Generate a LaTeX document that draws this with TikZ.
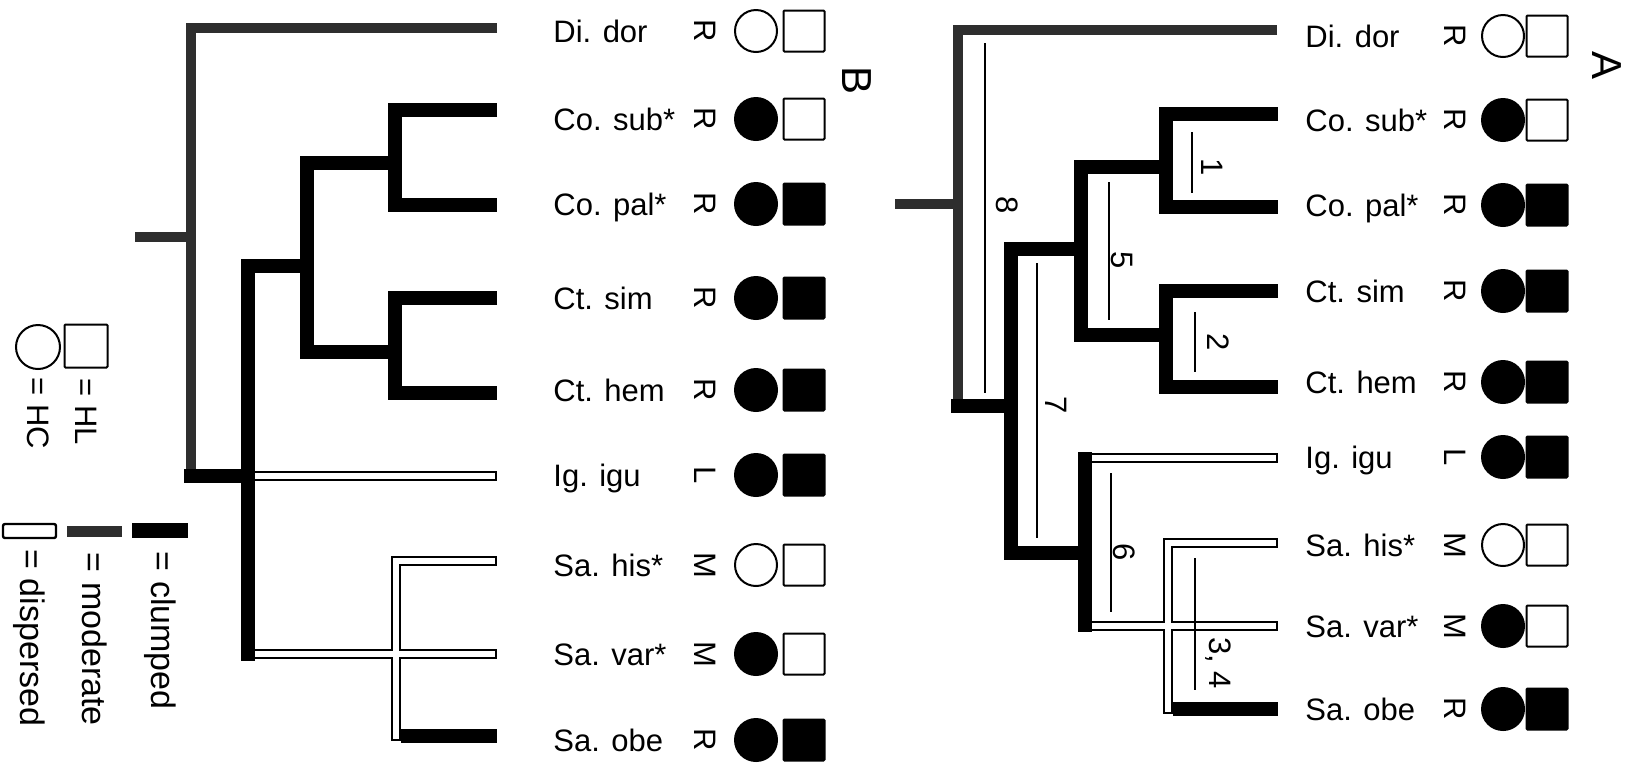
\documentclass[tikz,border=0pt]{standalone}
\usepackage{fontspec}
\setmainfont{Liberation Sans}
\usetikzlibrary{positioning}
\definecolor{mgray}{gray}{0.18}
\tikzset{
    clumped/.style = {line width=6.75pt, black},
    moderate/.style = {line width=5.25pt, mgray},
    dispout/.style = {line width=5pt, black, line cap=rect},
    dispin/.style = {line width=3pt, white, line cap=rect},
    annot/.style = {line width=1.2pt},
    taxon/.style = {anchor=west, inner sep=0, font=\fontsize{15.5}{18}\selectfont,
        text height=11.1pt, text depth=0pt},
    turned/.style = {rotate=-90, inner sep=0, font=\fontsize{15.5}{18}\selectfont},
    dotc/.style = {circle, draw, line width=1pt, inner sep=0, minimum size=21pt},
    boxc/.style = {rectangle, draw, line width=1pt, inner sep=0, minimum size=20.5pt, rounded corners=0.5pt},
}

\begin{document}
\begin{tikzpicture}[x=0.5pt, y=-0.5pt]
    \useasboundingbox (0,0) rectangle (1641,762);

    % tree B
    \coordinate (bStub) at (135,237);
    \coordinate (bRoot) at (191,237);
    \coordinate (bRootLow) at (191,476);
    \coordinate (bMain) at (248,476);
    \coordinate (bCC) at (307,266);
    \coordinate (bCo) at (395,163);
    \coordinate (bCtn) at (395,352);
    \coordinate (bSaStem) at (248,654);
    \coordinate (bSaBot) at (396,736);
    \coordinate (bDi) at (497,28);
    \coordinate (bCs) at (497,110);
    \coordinate (bCp) at (497,205);
    \coordinate (bCt) at (497,298);
    \coordinate (bCh) at (497,393);
    \coordinate (bIg) at (492,476);
    \coordinate (bSh) at (492,561);
    \coordinate (bSv) at (492,654);
    \coordinate (bSo) at (497,736);

    % tree A
    \coordinate (aStub) at (895,204);
    \coordinate (aRoot) at (958,204);
    \coordinate (aRootLow) at (958,406);
    \coordinate (aMain) at (1011,406);
    \coordinate (aCC) at (1081,249);
    \coordinate (aCo) at (1166,167);
    \coordinate (aCtn) at (1166,335);
    \coordinate (aN6) at (1085,553);
    \coordinate (aIgStem) at (1085,458);
    \coordinate (aSvStem) at (1085,626);
    \coordinate (aSaBot) at (1168,709);
    \coordinate (aDi) at (1277,30);
    \coordinate (aCs) at (1278,114);
    \coordinate (aCp) at (1278,207);
    \coordinate (aCt) at (1278,291);
    \coordinate (aCh) at (1278,387);
    \coordinate (aIg) at (1273,458);
    \coordinate (aSh) at (1273,543);
    \coordinate (aSv) at (1273,626);
    \coordinate (aSo) at (1278,709);

    % dispersed branches: outline first, then the white core
    \foreach \s in {dispout,dispin}{
        \draw[\s] (bMain) -- (bIg);
        \draw[\s] (bSaStem) -- (bSv);
        \draw[\s] (bSh) -| (bSaBot);
        \draw[\s] (aIgStem) -- (aIg);
        \draw[\s] (aSvStem) -- (aSv);
        \draw[\s] (aSh) -| (aSaBot);
    }

    \draw[moderate] (bStub) -- (bRoot);
    \draw[moderate] (bDi) -| (bRoot) -- (bRootLow);
    \draw[moderate] (aStub) -- (aRoot);
    \draw[moderate] (aDi) -| (aRoot) -- (aRootLow);

    \draw[clumped, line cap=rect] (bRootLow) -- (bMain);
    \draw[clumped] (bCC) -| (bMain) -- ([yshift=-3.4pt]bSaStem);
    \draw[clumped] (bCo) -| (bCC) |- (bCtn);
    \draw[clumped] (bCs) -| (bCo) |- (bCp);
    \draw[clumped] (bCt) -| (bCtn) |- (bCh);
    \draw[clumped] ([xshift=2.5pt]bSaBot) -- (bSo);

    \draw[clumped, line cap=rect] (aRootLow) -- (aMain);
    \draw[clumped] (aCC) -| (aMain) |- (aN6);
    \draw[clumped] (aCo) -| (aCC) |- (aCtn);
    \draw[clumped] (aCs) -| (aCo) |- (aCp);
    \draw[clumped] (aCt) -| (aCtn) |- (aCh);
    \draw[clumped] ([yshift=3pt]aIgStem) -- ([yshift=-3pt]aSvStem);
    \draw[clumped] ([xshift=2.5pt]aSaBot) -- (aSo);

    % numbered bars on tree A
    \draw[annot] (985,43) -- (985,393);
    \node[turned] (num8) at (1007,205) {8};
    \draw[annot] (1192,132) -- (1192,193);
    \node[turned] (num1) at (1212,167) {1};
    \draw[annot] (1109,182) -- (1109,320);
    \node[turned] (num5) at (1122,260) {5};
    \draw[annot] (1195,312) -- (1195,372);
    \node[turned] (num2) at (1218,342) {2};
    \draw[annot] (1037,263) -- (1037,538);
    \node[turned] (num7) at (1056,405) {7};
    \draw[annot] (1111,473) -- (1111,612);
    \node[turned] (num6) at (1124,552) {6};
    \draw[annot] (1195,558) -- (1195,690);
    \node[turned] (num34) at (1218,663) {3, 4};

    % taxa B
    \foreach \yy/\tx/\hb/\cfl/\sfl [count=\i] in {
        31/Di. dor/R/white/white,
        119/Co. sub*/R/black/white,
        204/Co. pal*/R/black/black,
        298/Ct. sim/R/black/black,
        390/Ct. hem/R/black/black,
        475/Ig. igu/L/black/black,
        565/Sa. his*/M/white/white,
        654/Sa. var*/M/black/white,
        740/Sa. obe/R/black/black}{
        \node[taxon] (spB\i) at (553,\yy) {\tx};
        \node[turned] (habB\i) at (705,\yy) {\hb};
        \node[dotc, fill=\cfl] (hcB\i) at (756,\yy) {};
        \node[boxc, fill=\sfl] (hlB\i) at (804,\yy) {};
    }

    % taxa A
    \foreach \yy/\tx/\hb/\cfl/\sfl [count=\i] in {
        36/Di. dor/R/white/white,
        120/Co. sub*/R/black/white,
        205/Co. pal*/R/black/black,
        291/Ct. sim/R/black/black,
        382/Ct. hem/R/black/black,
        457/Ig. igu/L/black/black,
        545/Sa. his*/M/white/white,
        626/Sa. var*/M/black/white,
        709/Sa. obe/R/black/black}{
        \node[taxon] (spA\i) at (1305,\yy) {\tx};
        \node[turned] (habA\i) at (1455,\yy) {\hb};
        \node[dotc, fill=\cfl] (hcA\i) at (1503,\yy) {};
        \node[boxc, fill=\sfl] (hlA\i) at (1547,\yy) {};
    }

    \node[turned, font=\fontsize{21}{24}\selectfont] (panelB) at (857,80) {B};
    \node[turned, font=\fontsize{21}{24}\selectfont] (panelA) at (1607,65) {A};

    % legend
    \node[dotc, minimum size=22pt] (keyHC) at (38,347) {};
    \node[boxc, minimum size=21.5pt] (keyHL) at (86,346) {};
    \node[turned, below=6pt of keyHC, anchor=west, xshift=-2.5pt] (txtHC) {= HC};
    \node[turned, below=7pt of keyHL, anchor=west, xshift=-2pt] (txtHL) {= HL};

    \node[draw, line width=1.2pt, fill=white, rounded corners=1pt, inner sep=0,
        minimum width=26.5pt, minimum height=7pt] (keyDisp) at (29.5,531) {};
    \node[fill=mgray, inner sep=0, minimum width=27.5pt, minimum height=5.5pt] (keyMod) at (94.5,531.5) {};
    \node[fill=black, inner sep=0, minimum width=28pt, minimum height=7.5pt] (keyClump) at (160,530.5) {};
    \node[turned, font=\fontsize{17}{20}\selectfont, below=6.5pt of keyDisp, anchor=west, xshift=-1.5pt] (txtDisp) {= dispersed};
    \node[turned, font=\fontsize{17}{20}\selectfont, below=7.5pt of keyMod, anchor=west] (txtMod) {= moderate};
    \node[turned, font=\fontsize{17}{20}\selectfont, below=6.5pt of keyClump, anchor=west] (txtClump) {= clumped};
\end{tikzpicture}
\end{document}
